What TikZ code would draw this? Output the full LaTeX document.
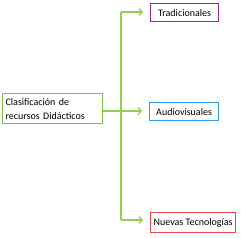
\documentclass[tikz,border=0pt]{standalone}
\usepackage{fontspec}
\setmainfont{Carlito}
\usetikzlibrary{arrows.meta}
\definecolor{lgreen}{HTML}{92D050}
\definecolor{mgreen}{HTML}{7CC242}
\definecolor{purp}{HTML}{A3238E}
\definecolor{lblue}{HTML}{2E9BF0}
\definecolor{lred}{HTML}{E8464B}
\begin{document}
\begin{tikzpicture}[x=1pt,y=-1pt,
  box/.style={draw, line width=1.2pt, inner sep=0pt, font=\fontsize{10}{14}\selectfont, align=left, anchor=north west},
  conn/.style={draw=lgreen, line width=1.3pt},
  arr/.style={conn, -{Straight Barb[length=3pt,width=7pt]}}]
\useasboundingbox (0,0) rectangle (250,238);
\node[box, draw=mgreen, minimum width=100pt, minimum height=30pt, text width=94pt, inner xsep=3pt] (main) at (2,93) {Clasificación de\\recursos Didácticos};
\node[box, draw=purp, minimum width=68pt, minimum height=18pt, inner xsep=3pt] (t) at (150,3) {Tradicionales};
\node[box, draw=lblue, minimum width=69pt, minimum height=18pt, inner xsep=3pt] (a) at (149,102) {Audiovisuales};
\node[box, draw=lred, minimum width=85pt, minimum height=20pt, inner xsep=3pt] (n) at (150,212) {Nuevas Tecnologías};
\coordinate (j) at (121,111);
\coordinate (jt) at (121,12);
\coordinate (jn) at (121,220);
\draw[conn] (main.east |- j) -- (j);
\draw[conn] (jt) -- (jn);
\draw[arr] (jt) -- ([xshift=-7pt]t.west |- jt);
\draw[arr] (j) -- ([xshift=-7pt]a.west |- j);
\draw[arr] (jn) -- ([xshift=-7pt]n.west |- jn);
\end{tikzpicture}
\end{document}
